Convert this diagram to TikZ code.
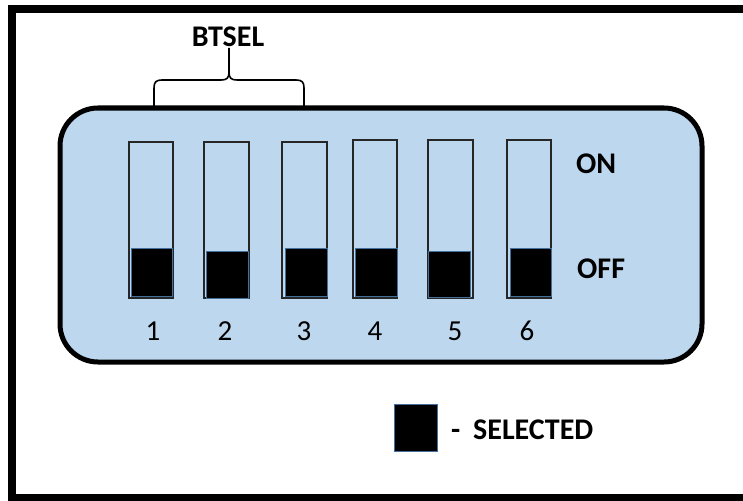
\documentclass[tikz,border=0pt]{standalone}
\usepackage{fontspec}
\setmainfont{Carlito}
\definecolor{panelblue}{HTML}{BDD7EE}
\definecolor{knobedge}{HTML}{41719C}
\begin{document}
\begin{tikzpicture}[x=1pt,y=-1pt,
  frame/.style={line width=8pt,draw=black},
  panel/.style={line width=5pt,draw=black,fill=panelblue,rounded corners=38pt},
  slot/.style={draw=black!85,line width=1.4pt,fill=panelblue,inner sep=0,rectangle},
  knob/.style={draw=knobedge,line width=1pt,fill=black,inner sep=0,rectangle},
  bigtxt/.style={font=\fontsize{30}{36}\selectfont\bfseries,inner sep=0,anchor=base west},
  numtxt/.style={font=\fontsize{29}{34}\selectfont,inner sep=0,anchor=base},
  brace/.style={draw=black,line width=1.6pt}
]
\useasboundingbox (0,0) rectangle (743,500);
\begin{scope}
\clip (0,0) rectangle (743,500);
\draw[frame] (12,9) rectangle (780,498);
\end{scope}
\draw[panel] (60,108) rectangle (702,362);
% slots
\foreach \n/\a/\b/\t/\ka/\kb/\kt/\kbt in {
  1/129/173/142/131/172/248/296,
  2/204/249/142/206/248/251/298,
  3/282/327/142/285/327/248/296,
  4/353/397/140/355/397/248/296,
  5/428/473/140/428/470/251/297,
  6/507/551/140/510/551/248/296}{
  \node[slot,minimum width={\b-\a},minimum height={298-\t}] (s\n) at ({(\a+\b)/2},{(\t+298)/2}) {};
  \node[knob,minimum width={\kb-\ka},minimum height={\kbt-\kt}] (k\n) at ({(\ka+\kb)/2},{(\kt+\kbt)/2}) {};
}
% numbers
\node[numtxt] (n1) at (153,340) {1};
\node[numtxt] (n2) at (225,340) {2};
\node[numtxt] (n3) at (304,340) {3};
\node[numtxt] (n4) at (375,340) {4};
\node[numtxt] (n5) at (455,340) {5};
\node[numtxt] (n6) at (527,340) {6};
% ON / OFF
\node[bigtxt] (on) at (576,173) {ON};
\node[bigtxt] (off) at (577,278) {OFF};
% BTSEL and brace
\node[bigtxt,anchor=base] (btsel) at (228,47) {BTSEL};
\coordinate (bl) at (154,108);
\coordinate (br) at (304,108);
\coordinate (bt) at (229,48);
\draw[brace] (bl) -- (154,88) .. controls (154,82) and (156,80) .. (162,80) -- (221,80)
  .. controls (227,80) and (229,78) .. (229,72) -- (bt);
\draw[brace] (br) -- (304,88) .. controls (304,82) and (302,80) .. (296,80) -- (237,80)
  .. controls (231,80) and (229,78) .. (229,72);
% legend
\node[knob,minimum width=43pt,minimum height=47pt] (leg) at (415.5,427.5) {};
\node[bigtxt] (dash) at (451,439) {-};
\node[bigtxt] (sel) at (473,439) {SELECTED};
\end{tikzpicture}
\end{document}
